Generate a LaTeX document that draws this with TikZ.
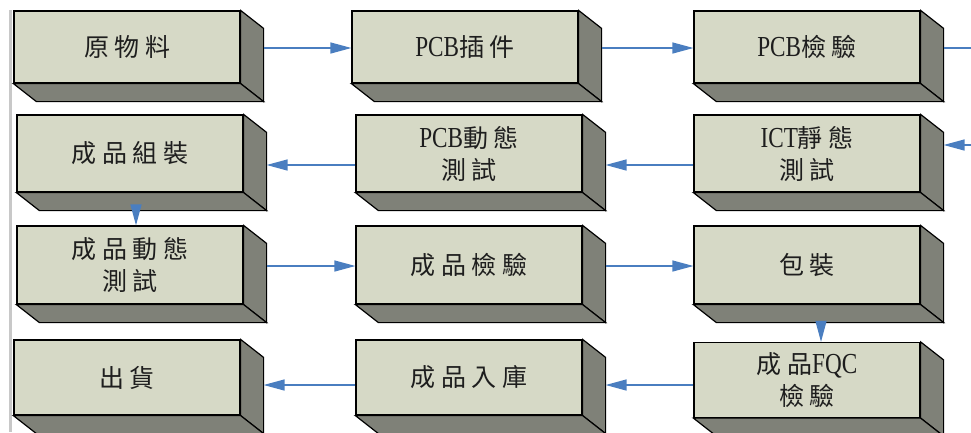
\documentclass[tikz,border=0pt]{standalone}
\usepackage{fontspec}
\setmainfont{Liberation Serif}
\newfontfamily\cjkfont[LetterSpace=22]{Noto Sans CJK TC}
\newfontfamily\latfont{Liberation Serif}
\usetikzlibrary{arrows.meta}
\definecolor{facecol}{RGB}{214,217,198}
\definecolor{sidecol}{RGB}{127,129,120}
\definecolor{arrcol}{RGB}{74,126,192}
\definecolor{txtcol}{RGB}{30,30,30}
\definecolor{barcol}{RGB}{200,200,200}
\newcommand\latw[1]{\scalebox{0.8}[1]{\fontsize{29}{32}\selectfont\latfont #1}}
\newcommand\boxsides[1]{%
  \filldraw[sideface] (#1.north east) -- ([shift={(23,18)}]#1.north east) -- ([shift={(23,18)}]#1.south east) -- (#1.south east) -- cycle;
  \filldraw[sideface] (#1.south west) -- (#1.south east) -- ([shift={(23,18)}]#1.south east) -- ([shift={(23,18)}]#1.south west) -- cycle;}
\tikzset{
  frontface/.style={draw=black, line width=1.2pt, fill=facecol, inner sep=0pt, align=center,
    text=txtcol, minimum width=226pt, font=\fontsize{25}{32}\selectfont\cjkfont},
  sideface/.style={draw=black, line width=1.2pt, fill=sidecol, line join=miter},
  arr/.style={draw=arrcol, line width=1.3pt, -{Triangle[length=21pt,width=11pt]}},
  arrline/.style={draw=arrcol, line width=1.3pt}
}
\begin{document}
\begin{tikzpicture}[x=1pt, y=-1pt]
\useasboundingbox (0,0) rectangle (971,432);
\fill[white] (0,0) rectangle (971,432);
\fill[barcol] (8.5,10) rectangle (12.3,432);
% row 1
\node[frontface, minimum height=72pt] (n1) at (127,47) {原物料};
\node[frontface, minimum height=72pt] (n2) at (465,47) {\latw{PCB}插件};
\node[frontface, minimum height=72pt] (n3) at (807,47) {\latw{PCB}檢驗};
% row 2
\node[frontface, minimum height=77pt] (n4) at (130,153.5) {成品組裝};
\node[frontface, minimum height=77pt] (n5) at (469,153.5) {\latw{PCB}動態\\測試};
\node[frontface, minimum height=77pt] (n6) at (807,153.5) {\latw{ICT}靜態\\測試};
% row 3
\node[frontface, minimum height=78pt] (n7) at (130,265) {成品動態\\測試};
\node[frontface, minimum height=78pt] (n8) at (469,265) {成品檢驗};
\node[frontface, minimum height=78pt] (n9) at (807,265) {包裝};
% row 4
\node[frontface, minimum height=75pt] (n10) at (127,377.5) {出貨};
\node[frontface, minimum height=75pt] (n11) at (469,377.5) {成品入庫};
\node[frontface, minimum height=75pt] (n12) at (807,380) {成品\latw{FQC}\\檢驗};
\foreach \b in {n1,n2,n3,n4,n5,n6,n7,n8,n9,n10,n11,n12} {\boxsides{\b}}
\coordinate (out1) at (971,48);
\coordinate (in2) at (971,145);
% connectors
\draw[arr] ([shift={(23,1)}]n1.east) -- ([shift={(0,1)}]n2.west);
\draw[arr] ([shift={(23,1)}]n2.east) -- ([shift={(0,1)}]n3.west);
\draw[arrline] ([shift={(23,1)}]n3.east) -- (out1);
\draw[arr] (in2) -- ([shift={(23,-8.5)}]n6.east);
\draw[arr] ([shift={(0,11.5)}]n6.west) -- ([shift={(23,11.5)}]n5.east);
\draw[arr] ([shift={(0,11.5)}]n5.west) -- ([shift={(23,11.5)}]n4.east);
\draw[arr] ([shift={(6,18)}]n4.south) -- ([shift={(6,0)}]n7.north);
\draw[arr] ([shift={(23,1)}]n7.east) -- ([shift={(0,1)}]n8.west);
\draw[arr] ([shift={(23,1)}]n8.east) -- ([shift={(0,1)}]n9.west);
\draw[arr] ([shift={(14,18)}]n9.south) -- ([shift={(14,0)}]n12.north);
\draw[arr] ([shift={(0,5)}]n12.west) -- ([shift={(23,7.5)}]n11.east);
\draw[arr] ([shift={(0,7.5)}]n11.west) -- ([shift={(23,7.5)}]n10.east);
\end{tikzpicture}
\end{document}
